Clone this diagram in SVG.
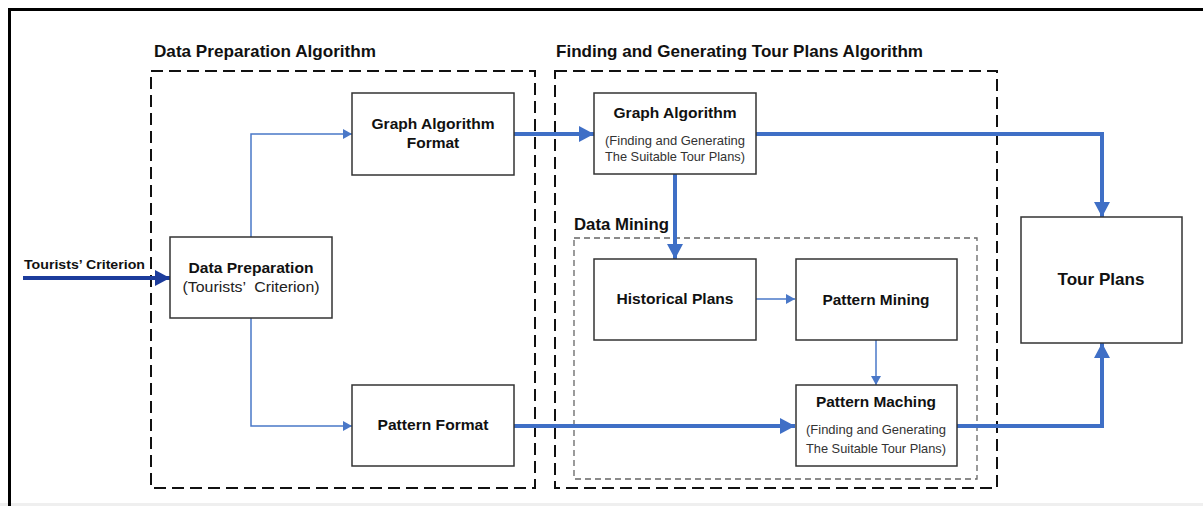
<svg xmlns="http://www.w3.org/2000/svg" width="1203" height="506" viewBox="0 0 1203 506">
<defs>
<style>
.frame{fill:none;stroke:#000;stroke-width:3}
.group{fill:none;stroke:#111;stroke-width:2;stroke-dasharray:12 6}
.inner{fill:none;stroke:#666;stroke-width:1.3;stroke-dasharray:6 4}
.box{fill:#fff;stroke:#333;stroke-width:1.5}
.title{font-family:"Liberation Sans",Arial,sans-serif;font-weight:bold;font-size:16.5px;fill:#111}
.lbl{font-family:"Liberation Sans",Arial,sans-serif;font-weight:bold;font-size:15.5px;fill:#111;text-anchor:middle}
.big{font-size:17px}
.sub{font-family:"Liberation Sans",Arial,sans-serif;font-size:13px;fill:#333;text-anchor:middle}
.sub2{font-family:"Liberation Sans",Arial,sans-serif;font-size:15.5px;fill:#222;text-anchor:middle;white-space:pre}
.elbl{font-family:"Liberation Sans",Arial,sans-serif;font-weight:bold;font-size:13.5px;fill:#111}
.thick{fill:none;stroke:#3f6fc6;stroke-width:4;marker-end:url(#bigHead)}
.thin{fill:none;stroke:#4a78c8;stroke-width:1.5;marker-end:url(#smallHead)}
.dark{fill:none;stroke:#1c3c9c;stroke-width:4;marker-end:url(#darkHead)}
</style>
<marker id="bigHead" markerUnits="userSpaceOnUse" markerWidth="16" markerHeight="16" refX="15" refY="8" orient="auto"><path d="M0,0 L15,8 L0,16 Z" fill="#3f6fc6"/></marker>
<marker id="darkHead" markerUnits="userSpaceOnUse" markerWidth="16" markerHeight="16" refX="15" refY="8" orient="auto"><path d="M0,0 L15,8 L0,16 Z" fill="#1c3c9c"/></marker>
<marker id="smallHead" markerUnits="userSpaceOnUse" markerWidth="10" markerHeight="10" refX="9" refY="5" orient="auto"><path d="M0,0 L9,5 L0,10 Z" fill="#4a78c8"/></marker>
</defs>
<rect x="0" y="0" width="1203" height="506" fill="#fff"/>
<rect x="0" y="503" width="1203" height="3" fill="#efefef"/>
<path class="frame" d="M9.5,506 V9.5 H1203"/>

<g id="group-data-preparation">
<rect class="group" x="151" y="71" width="384" height="417"/>
<text class="title" x="154" y="57" textLength="222" lengthAdjust="spacingAndGlyphs">Data Preparation Algorithm</text>
</g>
<g id="group-finding">
<rect class="group" x="555" y="71" width="442" height="417"/>
<text class="title" x="556" y="57" textLength="367" lengthAdjust="spacingAndGlyphs">Finding and Generating Tour Plans Algorithm</text>
</g>
<g id="group-data-mining">
<rect class="inner" x="574" y="238" width="403" height="241"/>
<text class="title" x="574" y="230" textLength="95" lengthAdjust="spacingAndGlyphs">Data Mining</text>
</g>

<g id="connectors">
<path class="dark" d="M23,278 H170"/>
<text class="elbl" x="24" y="269" textLength="121" lengthAdjust="spacingAndGlyphs">Tourists’ Criterion</text>
<path class="thin" d="M251,237 V134 H352"/>
<path class="thin" d="M251,318 V426 H352"/>
<path class="thick" d="M514,134 H594"/>
<path class="thick" d="M756,134 H1102 V217"/>
<path class="thick" d="M675,174 V259"/>
<path class="thin" d="M756,299 H795"/>
<path class="thin" d="M876,340 V385"/>
<path class="thick" d="M514,426 H795"/>
<path class="thick" d="M957,426 H1102 V343"/>
</g>

<g id="node-data-preparation">
<rect class="box" x="170" y="237" width="162" height="81"/>
<text class="lbl" x="251" y="273" textLength="125" lengthAdjust="spacingAndGlyphs">Data Preparation</text>
<text class="sub2" x="251" y="292" textLength="137" lengthAdjust="spacingAndGlyphs">(Tourists’  Criterion)</text>
</g>
<g id="node-graph-algorithm-format">
<rect class="box" x="352" y="93" width="162" height="82"/>
<text class="lbl" x="433" y="129" textLength="123" lengthAdjust="spacingAndGlyphs">Graph Algorithm</text>
<text class="lbl" x="433" y="148">Format</text>
</g>
<g id="node-pattern-format">
<rect class="box" x="352" y="385" width="162" height="81"/>
<text class="lbl" x="433" y="430" textLength="111" lengthAdjust="spacingAndGlyphs">Pattern Format</text>
</g>
<g id="node-graph-algorithm">
<rect class="box" x="594" y="93" width="162" height="81"/>
<text class="lbl" x="675" y="118" textLength="123" lengthAdjust="spacingAndGlyphs">Graph Algorithm</text>
<text class="sub" x="675" y="145" textLength="140" lengthAdjust="spacingAndGlyphs">(Finding and Generating</text>
<text class="sub" x="675" y="161" textLength="140" lengthAdjust="spacingAndGlyphs">The Suitable Tour Plans)</text>
</g>
<g id="node-historical-plans">
<rect class="box" x="594" y="259" width="162" height="81"/>
<text class="lbl" x="675" y="304" textLength="117" lengthAdjust="spacingAndGlyphs">Historical Plans</text>
</g>
<g id="node-pattern-mining">
<rect class="box" x="796" y="259" width="161" height="81"/>
<text class="lbl" x="876" y="305" textLength="107" lengthAdjust="spacingAndGlyphs">Pattern Mining</text>
</g>
<g id="node-pattern-maching">
<rect class="box" x="796" y="385" width="161" height="81"/>
<text class="lbl" x="876" y="407" textLength="120" lengthAdjust="spacingAndGlyphs">Pattern Maching</text>
<text class="sub" x="876" y="434" textLength="140" lengthAdjust="spacingAndGlyphs">(Finding and Generating</text>
<text class="sub" x="876" y="453" textLength="140" lengthAdjust="spacingAndGlyphs">The Suitable Tour Plans)</text>
</g>
<g id="node-tour-plans">
<rect class="box" x="1021" y="217" width="161" height="126"/>
<text class="lbl big" x="1101" y="285" textLength="87" lengthAdjust="spacingAndGlyphs">Tour Plans</text>
</g>
</svg>
